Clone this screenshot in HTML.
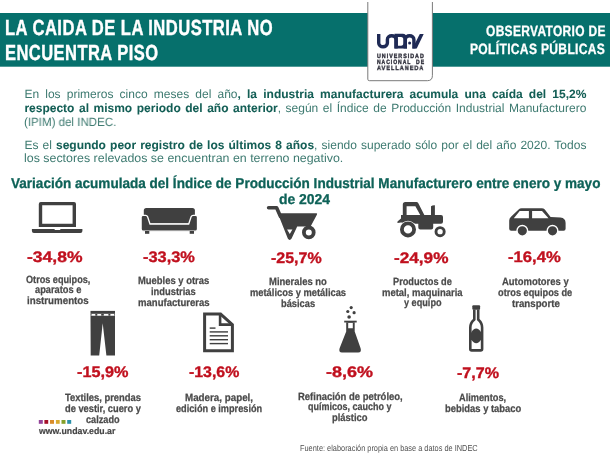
<!DOCTYPE html>
<html><head><meta charset="utf-8"><style>
html,body{margin:0;padding:0;background:#fff;width:610px;height:458px;overflow:hidden;position:relative}
body{font-family:"Liberation Sans",sans-serif;text-rendering:geometricPrecision}
.wrap{position:absolute;left:0;top:0;width:610px;height:458px;will-change:transform}
.t{position:absolute;white-space:nowrap;line-height:1;transform-origin:0 0}
.j{position:absolute;left:24.4px;width:562px;font-size:12px;line-height:1;color:#3d7a70;text-align:justify;text-align-last:justify;white-space:normal}
.j b{color:#135e55;font-weight:700;-webkit-text-stroke:0.05px #135e55}
svg{position:absolute;left:0;top:0}
</style></head><body>
<div class=wrap>
<svg width="610" height="458" viewBox="0 0 610 458">
<rect x="0" y="13" width="610" height="53.7" fill="#06706c"/>
<path d="M367.8,2 V79.2 Q367.8,80.7 369.3,80.7 H427.4 Q432.4,80.7 432.4,75.7 V2" fill="#fff" stroke="#7a7a7a" stroke-width="1"/>
<path fill="none" stroke="#1f2a55" stroke-width="3.4" d="M378.7,34 V43 A4.35,3.8 0 0 0 387.4,43 V39.4 A4.3,3.7 0 0 1 396,39.4 V48.5"/>
<path fill="#1f2a55" fill-rule="evenodd" d="M394.5,33.8 H402.8 A4.2,4.2 0 0 1 407,38 V48.5 H394.5 Z M397.9,36.9 V45.8 H401 Q403.4,45.8 403.4,43 V39.6 Q403.4,36.9 401,36.9 Z"/>
<path fill="none" stroke="#1f2a55" stroke-width="3.4" d="M405.3,48.5 V39.4 A4.3,3.7 0 0 1 413.9,39.4 V48.5"/>
<path fill="#1f2a55" d="M412.4,48.5 L419.8,34 H423.7 L416.7,48.5 Z"/>
<circle cx="409.6" cy="43" r="1.5" fill="#1f2a55"/>
<g fill="#404040">
<!-- laptop -->
<path fill-rule="evenodd" d="M40.8,202.1 H74 Q76,202.1 76,204.1 V227.1 H38.8 V204.1 Q38.8,202.1 40.8,202.1 Z M42.2,205.3 V223.7 H72.6 V205.3 Z"/>
<path d="M31.9,228.9 H54.3 L55,230 H60 L60.6,228.9 H82.4 V231 Q82.4,232.9 80.4,232.9 H33.9 Q31.9,232.9 31.9,231 Z"/>
<!-- sofa -->
<path d="M146.3,208.1 H192.4 Q194.9,208.1 194.9,210.6 V216 L190.5,223.6 H148.2 L143.8,216 V210.6 Q143.8,208.1 146.3,208.1 Z"/>
<path stroke="#fff" stroke-width="1.3" d="M141.1,217.3 Q141.1,215.3 143.1,215.3 H145.6 Q147,215.3 147.6,216.8 L150,224 H188.7 L191.1,216.8 Q191.7,215.3 193.1,215.3 H195.5 Q197.5,215.3 197.5,217.3 V229 Q197.5,231.2 195.3,231.2 H143.3 Q141.1,231.2 141.1,229 Z"/>
<rect x="145" y="231" width="4.3" height="2.8"/>
<rect x="189.7" y="231" width="4.3" height="2.8"/>
<!-- wheelbarrow -->
<path fill="none" stroke="#404040" stroke-width="3.6" stroke-linecap="round" stroke-linejoin="round" d="M268.6,207.7 H276.6 L280.5,216.5"/>
<path fill-rule="evenodd" d="M277.8,213.3 H316.2 Q317.6,213.3 317,214.6 L310.6,226.5 H297.2 L291.6,238.6 Q289.6,241.2 287.8,238.6 Z M287.1,229.5 H292.4 L289.8,234.1 Z"/>
<circle cx="308.8" cy="232.4" r="4.9" fill="none" stroke="#404040" stroke-width="3.8"/>
<!-- tractor -->
<path fill-rule="evenodd" d="M405.3,202.1 H416.5 Q417.6,202.1 418.2,203.1 L424.6,215.5 H402.8 V204.6 Q402.8,202.1 405.3,202.1 Z M406.6,206.2 V215.6 H420.5 L415.4,206.2 Z" transform="translate(0,0)"/>
<path d="M431,206.2 Q432.5,205 434.9,205.2 V216 H431 Z"/>
<path d="M401,215.1 H441 Q443,215.1 443,217.1 V221.7 Q443,223.7 441,223.7 H433.2 V227.4 Q433.2,229.4 431.2,229.4 H420.3 Q418.3,229.4 418.3,227.4 V223.7 H412 L401,222.5 L397.6,223 Q396.8,222 398,221 L401,218.5 Z"/>
<circle cx="408" cy="229.4" r="8.6" fill="#fff"/>
<circle cx="408" cy="229.4" r="6.1" fill="none" stroke="#404040" stroke-width="3.8"/>
<circle cx="440.1" cy="231.7" r="6.2" fill="#fff"/>
<circle cx="440.1" cy="231.7" r="4.1" fill="none" stroke="#404040" stroke-width="2.9"/>
<!-- car -->
<path fill-rule="evenodd" d="M509.2,220.5 Q509.2,218.3 511,216.7 L518.6,209.4 Q519.9,208.2 521.6,208.2 H541.8 Q543.6,208.2 544.8,209.6 L550.6,216.9 L560.5,217.6 Q565.6,218.3 565.6,223 V228.8 Q565.6,230.8 563.6,230.8 H511.2 Q509.2,230.8 509.2,228.8 Z M513.8,218.3 L519.7,211.1 H528.9 V218.3 Z M532.1,211.1 H542 L548.5,218.3 H532.1 Z"/>
<circle cx="522.3" cy="230.8" r="5.3" stroke="#fff" stroke-width="1.4"/>
<circle cx="552.5" cy="230.8" r="5.3" stroke="#fff" stroke-width="1.4"/>
<!-- pants -->
<rect x="90.5" y="310.9" width="24.5" height="3"/>
<path d="M90.5,313.9 H115 V315.7 H90.5 Z" fill="#fff"/>
<rect x="90.5" y="313.9" width="1" height="1.8"/>
<rect x="95.3" y="313.9" width="2" height="1.8"/>
<rect x="101.2" y="313.9" width="2.6" height="1.8"/>
<rect x="108.4" y="313.9" width="2" height="1.8"/>
<rect x="114.3" y="313.9" width="0.7" height="1.8"/>
<path d="M90.5,315.7 H115 V355.4 H106.4 L102.7,323.3 L99.2,355.4 H90.7 Z"/>
<!-- document -->
<path fill="none" stroke="#404040" stroke-width="3" d="M204.6,314.1 H220.6 L232.4,324.6 V350.7 H204.6 Z"/>
<path fill="none" stroke="#404040" stroke-width="2.6" d="M220.1,314.5 V324.6 H232"/>
<rect x="209.7" y="327.4" width="5.8" height="1.4"/>
<rect x="209.7" y="331.2" width="18.3" height="1.4"/>
<rect x="209.7" y="335.1" width="18.3" height="1.4"/>
<rect x="209.7" y="339" width="18.3" height="1.4"/>
<rect x="209.7" y="342.9" width="18.3" height="1.4"/>
<!-- flask -->
<circle cx="351.2" cy="307.6" r="1.6"/>
<circle cx="347.8" cy="311.5" r="1.6"/>
<circle cx="354.1" cy="312.7" r="1.6"/>
<circle cx="349.1" cy="317" r="1.8"/>
<rect x="344.2" y="320.7" width="12.5" height="1.8"/>
<path fill-rule="evenodd" d="M346.2,322.3 H354.7 V331.4 L360.6,348.2 Q361.8,352.4 358.2,352.4 H342 Q338.4,352.4 339.6,348.2 L346.2,331.4 Z M348.2,322.9 V328.2 H352.8 V322.9 Z"/>
<!-- bottle -->
<rect x="472.3" y="305.2" width="7.8" height="4.6" rx="1"/>
<path fill="none" stroke="#404040" stroke-width="2.6" d="M474.3,309.5 V319.5 Q470.3,323 470.3,327.5 V349 Q470.3,350.4 471.7,350.4 H480.7 Q482.1,350.4 482.1,349 V327.5 Q482.1,323 478.2,319.5 V309.5"/>
<path d="M471,332.7 Q476.2,324.5 481.4,332.7 V339.3 Q476.2,347.3 471,339.3 Z"/>
</g>
<!-- squares -->
<rect x="38.8" y="420" width="4" height="3.8" fill="#93449a"/>
<rect x="44.4" y="420" width="3.8" height="3.8" fill="#a5102a"/>
<rect x="50" y="420" width="4" height="3.8" fill="#d98c2a"/>
<rect x="55.9" y="420" width="3.8" height="3.8" fill="#d8aa30"/>
<rect x="61.5" y="420" width="4" height="3.8" fill="#85a02a"/>
<rect x="67.2" y="420" width="4" height="3.8" fill="#2b90a8"/>
</svg>

<div class=t style="left:4.74px;top:17px;font-size:21.8px;font-weight:700;color:#fff;letter-spacing:0.6px;transform:scaleX(0.7614);-webkit-text-stroke:0.4px #fff">LA CAIDA DE LA INDUSTRIA NO</div>
<div class=t style="left:4.74px;top:42px;font-size:21.8px;font-weight:700;color:#fff;letter-spacing:0.6px;transform:scaleX(0.7575);-webkit-text-stroke:0.4px #fff">ENCUENTRA PISO</div>
<div class=t style="left:485.50px;top:24px;font-size:15px;font-weight:700;color:#fff;letter-spacing:0.4px;transform:scaleX(0.7993);-webkit-text-stroke:0.3px #fff">OBSERVATORIO DE</div>
<div class=t style="left:470.20px;top:42px;font-size:15px;font-weight:700;color:#fff;letter-spacing:0.4px;transform:scaleX(0.8048);-webkit-text-stroke:0.3px #fff">POL&Iacute;TICAS P&Uacute;BLICAS</div>
<div class=t style="left:377.10px;top:54px;font-size:6.3px;font-weight:700;color:#30303c;letter-spacing:1.2px;transform:scaleX(0.8455);-webkit-text-stroke:0.4px #30303c">UNIVERSIDAD</div>
<div class=t style="left:377.10px;top:60px;font-size:6.3px;font-weight:700;color:#30303c;letter-spacing:1.2px;transform:scaleX(0.8017);-webkit-text-stroke:0.4px #30303c">NACIONAL&nbsp; DE</div>
<div class=t style="left:377.10px;top:66px;font-size:6.3px;font-weight:700;color:#30303c;letter-spacing:1.2px;transform:scaleX(0.8679);-webkit-text-stroke:0.4px #30303c">AVELLANEDA</div>
<div class=t style="left:10.70px;top:177px;font-size:14.25px;font-weight:700;color:#0e6258;transform:scaleX(0.9506);-webkit-text-stroke:0.3px #0e6258">Variaci&oacute;n acumulada del &Iacute;ndice de Producci&oacute;n Industrial Manufacturero entre enero y mayo</div>
<div class=t style="left:278.92px;top:193px;font-size:14.25px;font-weight:700;color:#0e6258;transform:scaleX(0.9765);-webkit-text-stroke:0.3px #0e6258">de 2024</div>
<div class=t style="left:26.96px;top:250px;font-size:15.3px;font-weight:700;color:#c0101e;transform:scaleX(1.1447);-webkit-text-stroke:0.35px #c0101e">-34,8%</div>
<div class=t style="left:143.33px;top:250px;font-size:15.3px;font-weight:700;color:#c0101e;transform:scaleX(1.0702);-webkit-text-stroke:0.35px #c0101e">-33,3%</div>
<div class=t style="left:271.46px;top:251px;font-size:15.3px;font-weight:700;color:#c0101e;transform:scaleX(1.0447);-webkit-text-stroke:0.35px #c0101e">-25,7%</div>
<div class=t style="left:394.08px;top:251px;font-size:15.3px;font-weight:700;color:#c0101e;transform:scaleX(1.1234);-webkit-text-stroke:0.35px #c0101e">-24,9%</div>
<div class=t style="left:507.71px;top:250px;font-size:15.3px;font-weight:700;color:#c0101e;transform:scaleX(1.0872);-webkit-text-stroke:0.35px #c0101e">-16,4%</div>
<div class=t style="left:77.04px;top:365px;font-size:15.3px;font-weight:700;color:#c0101e;transform:scaleX(1.0617);-webkit-text-stroke:0.35px #c0101e">-15,9%</div>
<div class=t style="left:189.46px;top:365px;font-size:15.3px;font-weight:700;color:#c0101e;transform:scaleX(1.0383);-webkit-text-stroke:0.35px #c0101e">-13,6%</div>
<div class=t style="left:325.83px;top:365px;font-size:15.3px;font-weight:700;color:#c0101e;transform:scaleX(1.1737);-webkit-text-stroke:0.35px #c0101e">-8,6%</div>
<div class=t style="left:457.35px;top:366px;font-size:15.3px;font-weight:700;color:#c0101e;transform:scaleX(1.0526);-webkit-text-stroke:0.35px #c0101e">-7,7%</div>
<div class=t style="left:25.90px;top:275px;font-size:10.5px;font-weight:700;color:#4a4a4a;transform:scaleX(0.8689);-webkit-text-stroke:0.25px #4a4a4a">Otros equipos,</div>
<div class=t style="left:35.10px;top:285px;font-size:10.5px;font-weight:700;color:#4a4a4a;transform:scaleX(0.8827);-webkit-text-stroke:0.25px #4a4a4a">aparatos e</div>
<div class=t style="left:26.97px;top:296px;font-size:10.5px;font-weight:700;color:#4a4a4a;transform:scaleX(0.9277);-webkit-text-stroke:0.25px #4a4a4a">instrumentos</div>
<div class=t style="left:138.00px;top:276px;font-size:10.5px;font-weight:700;color:#4a4a4a;transform:scaleX(0.8974);-webkit-text-stroke:0.25px #4a4a4a">Muebles y otras</div>
<div class=t style="left:151.21px;top:287px;font-size:10.5px;font-weight:700;color:#4a4a4a;transform:scaleX(0.8898);-webkit-text-stroke:0.25px #4a4a4a">industrias</div>
<div class=t style="left:137.99px;top:298px;font-size:10.5px;font-weight:700;color:#4a4a4a;transform:scaleX(0.9091);-webkit-text-stroke:0.25px #4a4a4a">manufactureras</div>
<div class=t style="left:269.10px;top:277px;font-size:10.5px;font-weight:700;color:#4a4a4a;transform:scaleX(0.9016);-webkit-text-stroke:0.25px #4a4a4a">Minerales no</div>
<div class=t style="left:250.11px;top:288px;font-size:10.5px;font-weight:700;color:#4a4a4a;transform:scaleX(0.8897);-webkit-text-stroke:0.25px #4a4a4a">met&aacute;licos y met&aacute;licas</div>
<div class=t style="left:281.12px;top:299px;font-size:10.5px;font-weight:700;color:#4a4a4a;transform:scaleX(0.8838);-webkit-text-stroke:0.25px #4a4a4a">b&aacute;sicas</div>
<div class=t style="left:392.52px;top:277px;font-size:10.5px;font-weight:700;color:#4a4a4a;transform:scaleX(0.8773);-webkit-text-stroke:0.25px #4a4a4a">Productos de</div>
<div class=t style="left:381.90px;top:288px;font-size:10.5px;font-weight:700;color:#4a4a4a;transform:scaleX(0.9023);-webkit-text-stroke:0.25px #4a4a4a">metal, maquinaria</div>
<div class=t style="left:403.80px;top:298px;font-size:10.5px;font-weight:700;color:#4a4a4a;transform:scaleX(0.8698);-webkit-text-stroke:0.25px #4a4a4a">y equipo</div>
<div class=t style="left:502.10px;top:277px;font-size:10.5px;font-weight:700;color:#4a4a4a;transform:scaleX(0.9000);-webkit-text-stroke:0.25px #4a4a4a">Automotores y</div>
<div class=t style="left:498.10px;top:288px;font-size:10.5px;font-weight:700;color:#4a4a4a;transform:scaleX(0.8774);-webkit-text-stroke:0.25px #4a4a4a">otros equipos de</div>
<div class=t style="left:511.50px;top:299px;font-size:10.5px;font-weight:700;color:#4a4a4a;transform:scaleX(0.9216);-webkit-text-stroke:0.25px #4a4a4a">transporte</div>
<div class=t style="left:64.70px;top:393px;font-size:10.5px;font-weight:700;color:#4a4a4a;transform:scaleX(0.8941);-webkit-text-stroke:0.25px #4a4a4a">Textiles, prendas</div>
<div class=t style="left:64.70px;top:404px;font-size:10.5px;font-weight:700;color:#4a4a4a;transform:scaleX(0.8847);-webkit-text-stroke:0.25px #4a4a4a">de vestir, cuero y</div>
<div class=t style="left:85.80px;top:415px;font-size:10.5px;font-weight:700;color:#4a4a4a;transform:scaleX(0.8711);-webkit-text-stroke:0.25px #4a4a4a">calzado</div>
<div class=t style="left:184.67px;top:393px;font-size:10.5px;font-weight:700;color:#4a4a4a;transform:scaleX(0.9324);-webkit-text-stroke:0.25px #4a4a4a">Madera, papel,</div>
<div class=t style="left:175.50px;top:404px;font-size:10.5px;font-weight:700;color:#4a4a4a;transform:scaleX(0.8735);-webkit-text-stroke:0.25px #4a4a4a">edici&oacute;n e impresi&oacute;n</div>
<div class=t style="left:297.70px;top:392px;font-size:10.5px;font-weight:700;color:#4a4a4a;transform:scaleX(0.9017);-webkit-text-stroke:0.25px #4a4a4a">Refinaci&oacute;n de petr&oacute;leo,</div>
<div class=t style="left:308.00px;top:402px;font-size:10.5px;font-weight:700;color:#4a4a4a;transform:scaleX(0.8557);-webkit-text-stroke:0.25px #4a4a4a">qu&iacute;micos, caucho y</div>
<div class=t style="left:331.61px;top:413px;font-size:10.5px;font-weight:700;color:#4a4a4a;transform:scaleX(0.8947);-webkit-text-stroke:0.25px #4a4a4a">pl&aacute;stico</div>
<div class=t style="left:459.20px;top:393px;font-size:10.5px;font-weight:700;color:#4a4a4a;transform:scaleX(0.8774);-webkit-text-stroke:0.25px #4a4a4a">Alimentos,</div>
<div class=t style="left:445.00px;top:404px;font-size:10.5px;font-weight:700;color:#4a4a4a;transform:scaleX(0.8952);-webkit-text-stroke:0.25px #4a4a4a">bebidas y tabaco</div>
<div class=t style="left:39.00px;top:427px;font-size:9.2px;font-weight:700;color:#454545;transform:scaleX(0.9525);-webkit-text-stroke:0.2px #454545">www.undav.edu.ar</div>
<div class=t style="left:300.15px;top:444px;font-size:8.7px;font-weight:400;color:#505050;transform:scaleX(0.8498);">Fuente: elaboraci&oacute;n propia en base a datos de INDEC</div>
<div class=t style="left:24.04px;top:116px;font-size:12px;font-weight:400;color:#3d7a70;transform:scaleX(0.9617);">(IPIM) del INDEC.</div>
<div class=t style="left:23.97px;top:152px;font-size:12px;font-weight:400;color:#3d7a70;transform:scaleX(1.0336);">los sectores relevados se encuentran en terreno negativo.</div>
<div class=j style="top:88px">En los primeros cinco meses del a&ntilde;o<b>, la industria manufacturera acumula una ca&iacute;da del 15,2%</b></div>
<div class=j style="top:102px"><b>respecto al mismo periodo del a&ntilde;o anterior</b>, seg&uacute;n el &Iacute;ndice de Producci&oacute;n Industrial Manufacturero</div>
<div class=j style="top:139px">Es el <b>segundo peor registro de los &uacute;ltimos 8 a&ntilde;os</b>, siendo superado s&oacute;lo por el del a&ntilde;o 2020. Todos</div>
</div>
</body></html>
